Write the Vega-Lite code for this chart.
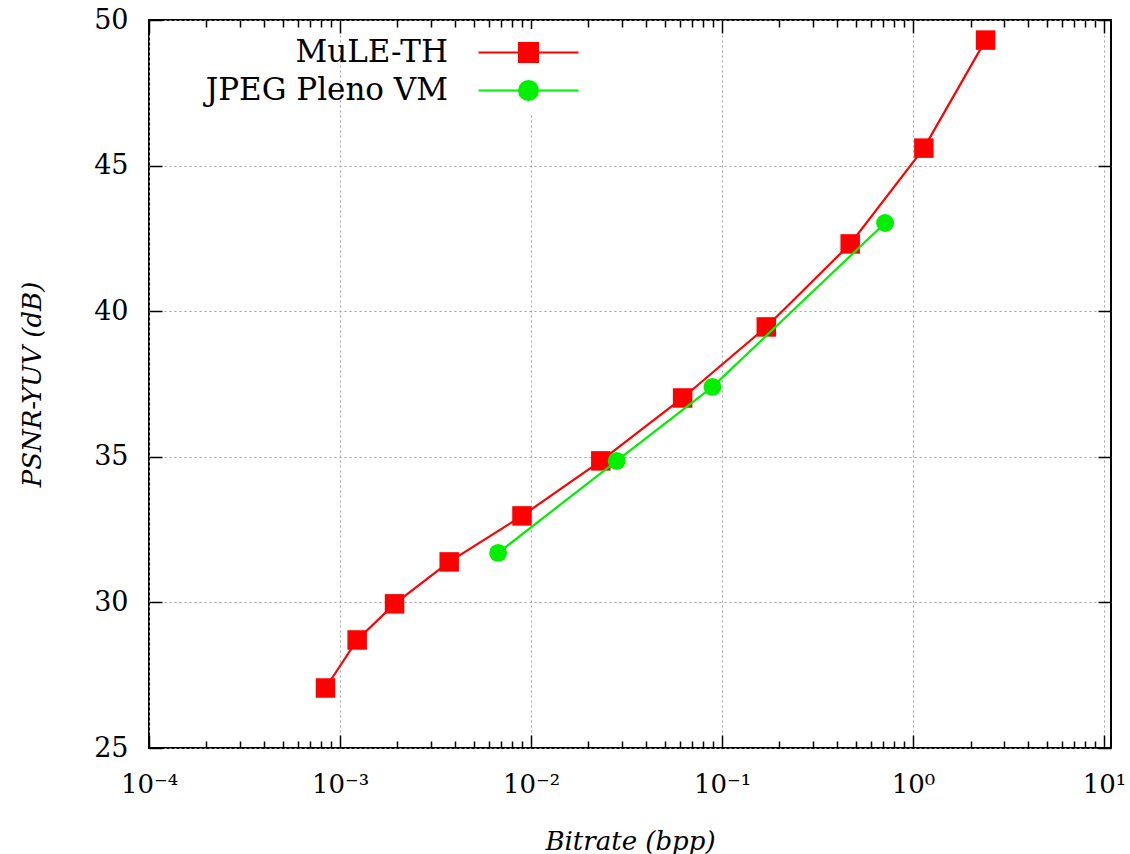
{
  "$schema": "https://vega.github.io/schema/vega-lite/v6.json",
  "width": 962,
  "height": 728,
  "autosize": {"type": "none"},
  "padding": {"left": 149, "top": 20, "right": 19, "bottom": 106},
  "background": "white",
  "config": {
    "view": {"stroke": "black", "strokeWidth": 2},
    "font": "DejaVu Serif",
    "axis": {
      "labelFont": "DejaVu Serif",
      "titleFont": "DejaVu Serif",
      "labelColor": "black",
      "titleColor": "black",
      "tickColor": "black",
      "tickWidth": 1.5,
      "domain": false,
      "gridColor": "#a0a0a0",
      "gridDash": [2, 3],
      "gridWidth": 1
    }
  },
  "data": {
    "values": [
      {"series": "MuLE-TH", "bitrate": 0.00084, "psnr": 27.06},
      {"series": "MuLE-TH", "bitrate": 0.00123, "psnr": 28.71},
      {"series": "MuLE-TH", "bitrate": 0.00193, "psnr": 29.95},
      {"series": "MuLE-TH", "bitrate": 0.00373, "psnr": 31.39},
      {"series": "MuLE-TH", "bitrate": 0.00897, "psnr": 32.97},
      {"series": "MuLE-TH", "bitrate": 0.0232, "psnr": 34.86},
      {"series": "MuLE-TH", "bitrate": 0.0622, "psnr": 37.02},
      {"series": "MuLE-TH", "bitrate": 0.1706, "psnr": 39.46},
      {"series": "MuLE-TH", "bitrate": 0.469, "psnr": 42.31},
      {"series": "MuLE-TH", "bitrate": 1.14, "psnr": 45.6},
      {"series": "MuLE-TH", "bitrate": 2.4, "psnr": 49.31},
      {"series": "JPEG Pleno VM", "bitrate": 0.00673, "psnr": 31.7},
      {"series": "JPEG Pleno VM", "bitrate": 0.0281, "psnr": 34.86},
      {"series": "JPEG Pleno VM", "bitrate": 0.0891, "psnr": 37.4},
      {"series": "JPEG Pleno VM", "bitrate": 0.714, "psnr": 43.03}
    ]
  },
  "resolve": {"axis": {"x": "independent", "y": "independent"}},
  "layer": [
    {
      "transform": [{"filter": "datum.series === 'MuLE-TH'"}],
      "mark": {"type": "line", "strokeWidth": 2.2, "clip": true},
      "encoding": {
        "x": {
          "field": "bitrate", "type": "quantitative",
          "scale": {"type": "log", "domain": [0.0001, 10.88], "nice": false},
          "axis": {
            "orient": "bottom",
            "title": "Bitrate (bpp)",
            "titleFontStyle": "italic",
            "titleFontWeight": "normal",
            "titleFontSize": 26,
            "titlePadding": 31,
            "values": [0.0001, 0.001, 0.01, 0.1, 1, 10],
            "labelExpr": "'10' + ['⁻⁴','⁻³','⁻²','⁻¹','⁰','¹'][round(log(datum.value)/LN10)+4]",
            "labelFontSize": 26,
            "labelPadding": 36,
            "labelFlush": false,
            "tickSize": -13,
            "grid": true
          }
        },
        "y": {
          "field": "psnr", "type": "quantitative",
          "scale": {"domain": [25, 50], "nice": false, "zero": false},
          "axis": {
            "orient": "left",
            "title": "PSNR-YUV (dB)",
            "titleFontStyle": "italic",
            "titleFontWeight": "normal",
            "titleFontSize": 26,
            "titlePadding": 48,
            "values": [25, 30, 35, 40, 45, 50],
            "labelFontSize": 27,
            "labelPadding": 34,
            "labelFlush": false,
            "tickSize": -13,
            "grid": true
          }
        },
        "color": {
          "field": "series", "type": "nominal",
          "scale": {"domain": ["MuLE-TH", "JPEG Pleno VM"], "range": ["#ff0000", "#00f000"]},
          "legend": {
            "orient": "none",
            "legendX": 356,
            "legendY": 9,
            "title": null,
            "fillColor": "white",
            "padding": 8,
            "labelFont": "DejaVu Serif",
            "labelFontSize": 31,
            "labelColor": "black",
            "labelAlign": "right",
            "labelBaseline": "middle",
            "labelOffset": -96,
            "labelLimit": 0,
            "symbolSize": 400,
            "symbolStrokeWidth": 2,
            "rowPadding": 6,
            "encode": {
              "symbols": {
                "update": {
                  "shape": {"signal": "datum.value === 'MuLE-TH' ? 'M-5,0H5M-0.95,-0.95H0.95V0.95H-0.95Z' : 'M-5,0H5M-0.95,0A0.95,0.95,0,1,0,0.95,0A0.95,0.95,0,1,0,-0.95,0Z'"},
                  "fill": {"signal": "datum.value === 'MuLE-TH' ? '#ff0000' : '#00f000'"},
                  "stroke": {"signal": "datum.value === 'MuLE-TH' ? '#ff0000' : '#00f000'"},
                  "strokeWidth": {"value": 2},
                  "opacity": {"value": 1}
                }
              }
            }
          }
        }
      }
    },
    {
      "transform": [{"filter": "datum.series === 'MuLE-TH'"}],
      "mark": {"type": "point", "shape": "square", "filled": true, "size": 380, "opacity": 1},
      "encoding": {
        "x": {
          "field": "bitrate", "type": "quantitative",
          "axis": {"orient": "top", "title": null, "labels": false, "grid": false, "values": [0.0001, 0.001, 0.01, 0.1, 1, 10], "tickSize": -13}
        },
        "y": {
          "field": "psnr", "type": "quantitative",
          "axis": {"orient": "right", "title": null, "labels": false, "grid": false, "values": [25, 30, 35, 40, 45, 50], "tickSize": -13}
        },
        "color": {"field": "series", "type": "nominal", "legend": null}
      }
    },
    {
      "transform": [{"filter": "datum.series === 'JPEG Pleno VM'"}],
      "mark": {"type": "line", "strokeWidth": 2.2},
      "encoding": {
        "x": {
          "field": "bitrate", "type": "quantitative",
          "axis": {"orient": "bottom", "title": null, "labels": false, "grid": false, "tickSize": -7,
            "values": [0.0002,0.0003,0.0004,0.0005,0.0006,0.0007,0.0008,0.0009,0.002,0.003,0.004,0.005,0.006,0.007,0.008,0.009,0.02,0.03,0.04,0.05,0.06,0.07,0.08,0.09,0.2,0.3,0.4,0.5,0.6,0.7,0.8,0.9,2,3,4,5,6,7,8,9]}
        },
        "y": {"field": "psnr", "type": "quantitative", "axis": null},
        "color": {"field": "series", "type": "nominal", "legend": null}
      }
    },
    {
      "transform": [{"filter": "datum.series === 'JPEG Pleno VM'"}],
      "mark": {"type": "point", "shape": "circle", "filled": true, "size": 320, "opacity": 1},
      "encoding": {
        "x": {
          "field": "bitrate", "type": "quantitative",
          "axis": {"orient": "top", "title": null, "labels": false, "grid": false, "tickSize": -7,
            "values": [0.0002,0.0003,0.0004,0.0005,0.0006,0.0007,0.0008,0.0009,0.002,0.003,0.004,0.005,0.006,0.007,0.008,0.009,0.02,0.03,0.04,0.05,0.06,0.07,0.08,0.09,0.2,0.3,0.4,0.5,0.6,0.7,0.8,0.9,2,3,4,5,6,7,8,9]}
        },
        "y": {"field": "psnr", "type": "quantitative", "axis": null},
        "color": {"field": "series", "type": "nominal", "legend": null}
      }
    }
  ]
}
